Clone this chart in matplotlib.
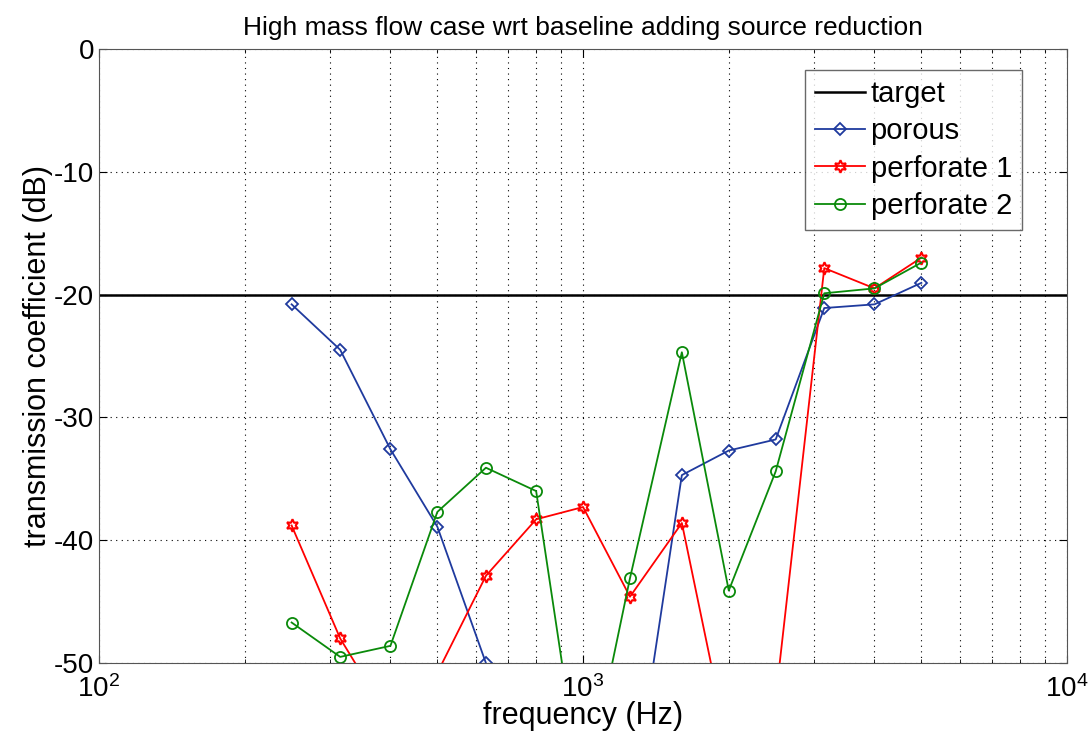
import matplotlib
matplotlib.use("Agg")
import matplotlib.pyplot as plt
import numpy as np
from matplotlib.ticker import LogLocator, NullFormatter

plt.rcParams["font.family"] = ["Liberation Sans", "DejaVu Sans"]
plt.rcParams["mathtext.fontset"] = "custom"
plt.rcParams["mathtext.rm"] = "Liberation Sans"
plt.rcParams["axes.unicode_minus"] = False

# third-octave band centres (Hz)
freq = [250, 315, 400, 500, 630, 800, 1000, 1250, 1600, 2000, 2500, 3150, 4000, 5000]

# transmission coefficient (dB); values below -50 are off the plot
porous = [-20.8, -24.5, -32.6, -38.9, -50.0, -60.0, -65.0, -62.7,
          -34.7, -32.7, -31.8, -21.1, -20.8, -19.05]
perforate1 = [-38.8, -48.0, -54.7, -50.8, -42.9, -38.3, -37.3, -44.6,
              -38.6, -57.0, -52.9, -17.85, -19.5, -17.0]
perforate2 = [-46.7, -49.5, -48.6, -37.7, -34.1, -36.0, -61.4, -43.1,
              -24.7, -44.1, -34.4, -19.9, -19.5, -17.4]
target_db = -20

fig = plt.figure(figsize=(10.89, 7.40), dpi=100)
ax = fig.add_axes([0.0909, 0.104, 0.8890, 0.830])

ax.plot([100, 10000], [target_db, target_db], color="black", lw=1.8, label="target")
ax.plot(freq, porous, color="#1f3a9e", lw=1.3, marker="D", ms=6,
        mfc="none", mew=1.3, label="porous")
ax.plot(freq, perforate1, color="#ff0000", lw=1.3, marker=(6, 1, 0), ms=9,
        mfc="none", mew=1.5, label="perforate 1")
ax.plot(freq, perforate2, color="#0a8a0a", lw=1.3, marker="o", ms=8,
        mfc="none", mew=1.3, label="perforate 2")

ax.set_xscale("log")
ax.set_xlim(100, 10000)
ax.set_ylim(-50, 0)
ax.set_yticks(np.arange(-50, 1, 10))
ax.xaxis.set_minor_locator(LogLocator(base=10, subs=np.arange(2, 10)))
ax.xaxis.set_minor_formatter(NullFormatter())

ax.grid(True, which="major", axis="both", linestyle=(0, (1, 4)), color="black", lw=0.8)
ax.grid(True, which="minor", axis="x", linestyle=(0, (1, 4)), color="black", lw=0.8)

ax.tick_params(which="both", direction="in", top=True, right=True, labelsize=20)
ax.tick_params(which="major", length=6)
ax.tick_params(which="minor", length=3)
ax.tick_params(axis="x", pad=9)
for sp in ax.spines.values():
    sp.set_color("#555555")

ax.set_xlabel("frequency (Hz)", fontsize=22)
ax.xaxis.set_label_coords(0.5, -0.062)
ax.set_ylabel("transmission coefficient (dB)", fontsize=22)
ax.yaxis.set_label_coords(-0.063, 0.5)
ax.yaxis.label.set_va("center")
ax.set_title("High mass flow case wrt baseline adding source reduction", fontsize=19, pad=10)

leg = ax.legend(loc="upper right", bbox_to_anchor=(0.9535, 0.966), borderaxespad=0,
                fontsize=21, frameon=True, fancybox=False, edgecolor="#444444",
                handlelength=1.7, handletextpad=0.2, borderpad=0.35, labelspacing=0.32)
leg.get_frame().set_linewidth(1.0)

fig.savefig("out.png", dpi=100)
